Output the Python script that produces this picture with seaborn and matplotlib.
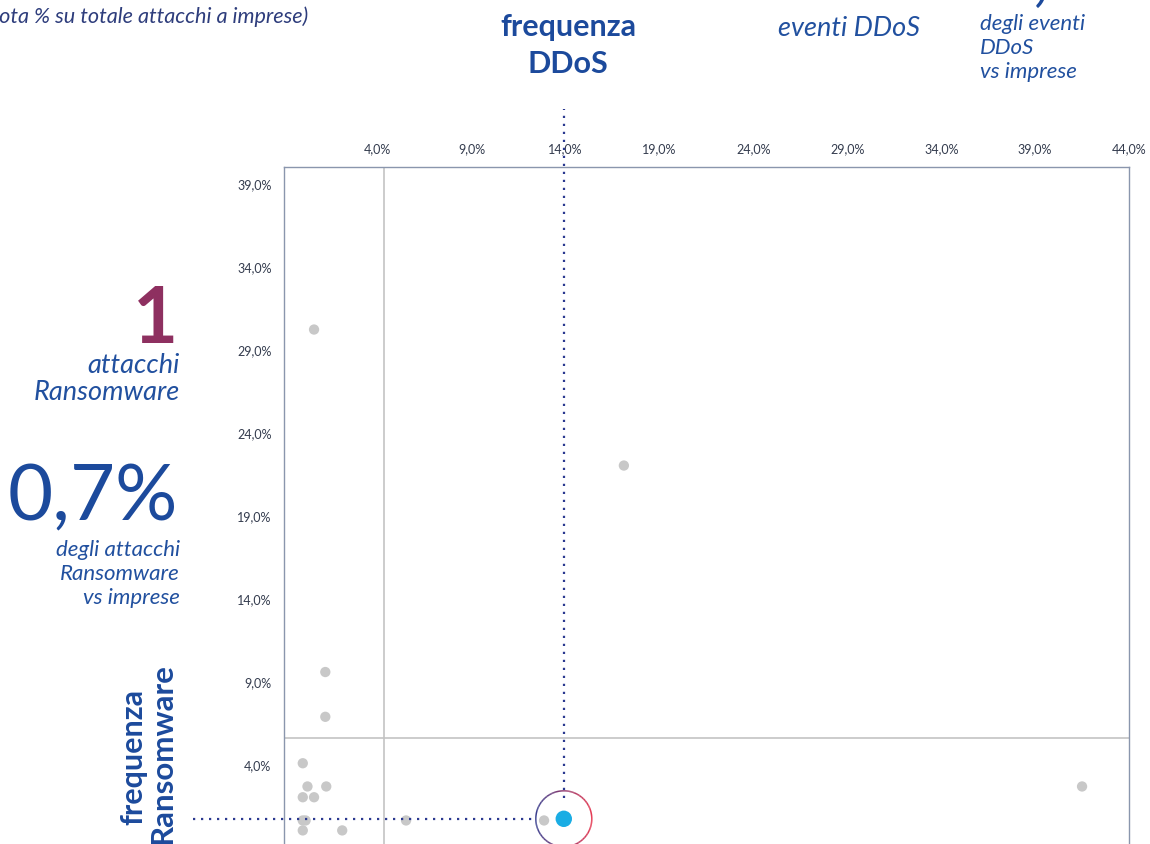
import numpy as np
import matplotlib
matplotlib.use("Agg")
import matplotlib.pyplot as plt
import seaborn as sns
from matplotlib.collections import LineCollection
from matplotlib.colors import to_rgb

# ---------------- data ----------------
ddos_freq = [0.6, 17.1, 1.2, 1.2, 0.0, 0.25, 1.25, 0.0, 0.6, 0.0, 0.15, 0.0, 2.1, 5.5, 12.85, 41.5]
ransom_freq = [30.2, 22.0, 9.55, 6.85, 4.05, 2.65, 2.65, 2.0, 2.0, 0.6, 0.6, 0.0, 0.0, 0.6, 0.6, 2.65]
highlight_ddos = [13.9]
highlight_ransom = [0.7]
mean_ddos = 4.3
mean_ransom = 5.6
x_ticks = [4, 9, 14, 19, 24, 29, 34, 39, 44]
y_ticks = [4, 9, 14, 19, 24, 29, 34, 39]
x_tick_labels = ["4,0%", "9,0%", "14,0%", "19,0%", "24,0%", "29,0%", "34,0%", "39,0%", "44,0%"]
y_tick_labels = ["4,0%", "9,0%", "14,0%", "19,0%", "24,0%", "29,0%", "34,0%", "39,0%"]

# ---------------- style ----------------
sns.set_style("white")
plt.rcParams['font.family'] = ['Lato', 'DejaVu Sans']

W, H = 1150, 845
fig = plt.figure(figsize=(W / 100, H / 100), dpi=100)
fig.patch.set_facecolor("white")

ax = fig.add_axes([284 / W, 1 - 848 / H, (1129 - 284) / W, (848 - 168) / H])
ax.set_xlim(-1, 44)
ax.set_ylim(-1, 40)

ax.axvline(mean_ddos, color="#c3c3c3", lw=1.2, zorder=1)
ax.axhline(mean_ransom, color="#c3c3c3", lw=1.2, zorder=1)

sns.scatterplot(x=ddos_freq, y=ransom_freq, color="#c8c8c8", s=55,
                edgecolor="none", ax=ax, zorder=3, clip_on=False, legend=False)
sns.scatterplot(x=highlight_ddos, y=highlight_ransom, color="#1aade4", s=140,
                edgecolor="none", ax=ax, zorder=5, clip_on=False, legend=False)

ax.xaxis.tick_top()
ax.set_xticks(x_ticks)
ax.set_xticklabels(x_tick_labels)
ax.set_yticks(y_ticks)
ax.set_yticklabels(y_tick_labels)
ax.tick_params(axis="both", length=0, pad=9, labelsize=9, colors="#343c4e")
ax.set_xlabel("")
ax.set_ylabel("")
for side in ["top", "left", "right"]:
    ax.spines[side].set_color("#8a96ad")
    ax.spines[side].set_linewidth(1.0)
ax.spines["bottom"].set_visible(False)

# pixel -> data scales
px_x = ax.bbox.width / (44 - (-1))
px_y = ax.bbox.height / (40 - (-1))
hx, hy = highlight_ddos[0], highlight_ransom[0]
rad = 28
rx, ry = rad / px_x, rad / px_y

# dotted guide lines
navy = "#2b3990"
ax.plot([-1 - (284 - 193) / px_x, hx - rx], [hy, hy], color=navy, lw=1.6,
        linestyle=(0, (1, 2.6)), clip_on=False, zorder=4)
ax.plot([hx, hx], [hy + 21 / px_y, 40 + (168 - 110) / px_y], color=navy, lw=1.6,
        linestyle=(0, (1, 2.6)), clip_on=False, zorder=4)

# gradient circle around highlight
th = np.linspace(0, 2 * np.pi, 181)
cx = hx + rx * np.cos(th)
cy = hy + ry * np.sin(th)
pts = np.column_stack([cx, cy]).reshape(-1, 1, 2)
segs = np.concatenate([pts[:-1], pts[1:]], axis=1)
c_left, c_right = np.array(to_rgb("#2e3589")), np.array(to_rgb("#e42a45"))
tm = (1 + np.cos((th[:-1] + th[1:]) / 2)) / 2
cols = [tuple(c_left * (1 - t) + c_right * t) for t in tm]
lc = LineCollection(segs, colors=cols, linewidths=1.1, zorder=6, clip_on=False)
ax.add_collection(lc)

# ---------------- texts ----------------
def ft(x, y, s, **kw):
    fig.text(x / W, 1 - y / H, s, **kw)

blue = "#1c4a9c"
itblue = "#21509f"
ft(308, 17, "(quota % su totale attacchi a imprese)", ha="right", va="center",
   fontsize=15.6, style="italic", color="#2e3d7c")

ft(568, 27, "frequenza", ha="center", va="center", fontsize=22, fontweight="bold", color=blue)
ft(568, 64, "DDoS", ha="center", va="center", fontsize=22, fontweight="bold", color=blue)

# cropped big numbers at the very top
ft(806, -2, "21", ha="left", va="baseline", fontsize=56, fontweight="bold", color="#e8c6d4")
ft(985, -3, "2,1%", ha="left", va="baseline", fontsize=58, fontweight="normal", color=blue)

ft(849, 28, "eventi DDoS", ha="center", va="center", fontsize=19.5, style="italic", color=itblue)
ft(980, 24, "degli eventi", ha="left", va="center", fontsize=16, style="italic", color=itblue)
ft(980, 48, "DDoS", ha="left", va="center", fontsize=16, style="italic", color=itblue)
ft(980, 72, "vs imprese", ha="left", va="center", fontsize=16, style="italic", color=itblue)

ft(178, 343, "1", ha="right", va="baseline", fontsize=56, fontweight="bold", color="#8e3060")
ft(180, 366, "attacchi", ha="right", va="center", fontsize=19.5, style="italic", color=itblue)
ft(180, 392, "Ransomware", ha="right", va="center", fontsize=19.5, style="italic", color=itblue)

ft(178, 520, "0,7%", ha="right", va="baseline", fontsize=56, fontweight="normal", color=blue)
ft(180, 550, "degli attacchi", ha="right", va="center", fontsize=16, style="italic", color=itblue)
ft(180, 574, "Ransomware", ha="right", va="center", fontsize=16, style="italic", color=itblue)
ft(180, 598, "vs imprese", ha="right", va="center", fontsize=16, style="italic", color=itblue)

ft(133, 757, "frequenza", ha="center", va="center", rotation=90, fontsize=22,
   fontweight="bold", color=blue)
ft(163, 754, "Ransomware", ha="center", va="center", rotation=90, fontsize=22.5,
   fontweight="bold", color=blue)

fig.savefig("out.png", dpi=100, facecolor="white")
